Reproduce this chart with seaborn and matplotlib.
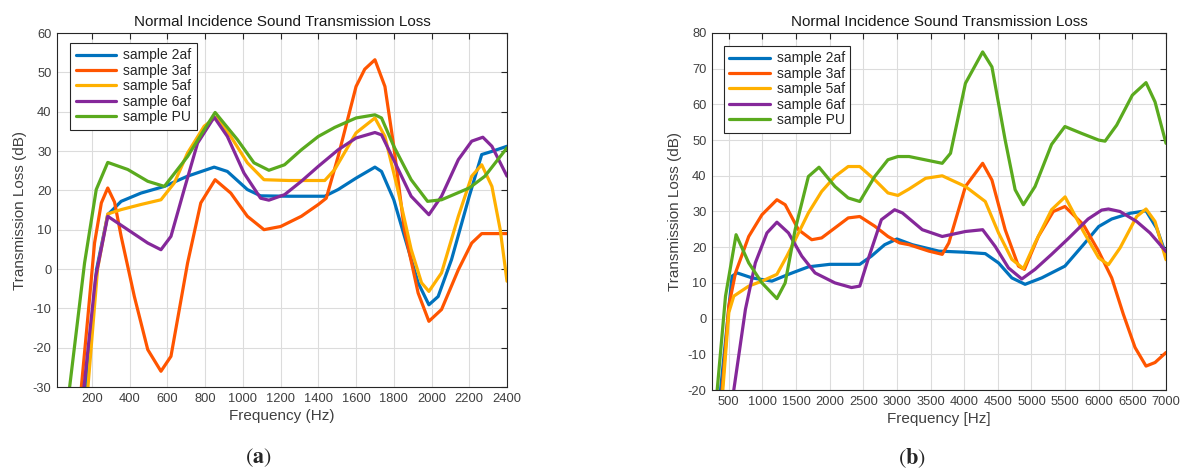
import matplotlib
matplotlib.use("Agg")
import matplotlib.pyplot as plt
import seaborn as sns

# ---- (a) low frequency range ----
fa_2af = [170, 225, 284, 355, 460, 584, 707, 848, 918, 1024, 1094, 1244, 1434, 1505, 1600, 1700, 1735,
          1800, 1856, 1929, 1986, 2035, 2106, 2200, 2266, 2320, 2400]
tla_2af = [-30, 0, 13.8, 17.2, 19.3, 21.0, 23.6, 25.9, 24.8, 20.2, 18.6, 18.5, 18.5, 20.2, 23.1, 25.9, 24.8,
           17.6, 8.4, -3.5, -9.1, -7.0, 2.4, 18.5, 29.1, 29.9, 31.2]

fa_3af = [144, 179, 214, 250, 284, 320, 355, 425, 496, 566, 619, 707, 777, 853, 936, 1024, 1112, 1200,
          1310, 1400, 1442, 1505, 1600, 1646, 1700, 1753, 1800, 1856, 1929, 1986, 2053, 2142, 2213, 2266, 2400]
tla_3af = [-30, -12, 6.6, 16.8, 20.6, 17.0, 8.3, -7.0, -20.5, -26.0, -22.2, 1.5, 16.8, 22.7, 19.3, 13.4, 10.0, 10.8,
           13.4, 16.4, 18.0, 28.6, 46.4, 50.8, 53.2, 46.4, 31.2, 10.0, -6.1, -13.3, -10.3, -0.2, 6.6, 9.0, 9.0]

fa_5af = [179, 230, 284, 355, 460, 566, 637, 707, 795, 857, 936, 1024, 1112, 1244, 1434, 1487, 1600, 1700,
          1753, 1821, 1892, 1947, 1986, 2053, 2142, 2213, 2266, 2320, 2364, 2400]
tla_5af = [-30, 0, 14.0, 15.1, 16.4, 17.6, 21.9, 29.5, 36.3, 38.6, 33.7, 27.0, 22.7, 22.5, 22.5, 25.3, 34.6, 38.4,
           33.7, 20.2, 5.0, -3.5, -5.7, -1.0, 13.4, 23.6, 26.5, 21.0, 10.0, -3.1]

fa_6af = [158, 220, 284, 390, 496, 566, 619, 689, 760, 848, 918, 1006, 1094, 1138, 1221, 1310, 1400, 1505,
          1600, 1700, 1735, 1803, 1892, 1986, 2053, 2142, 2213, 2272, 2320, 2400]
tla_6af = [-30, -2, 13.4, 10.0, 6.6, 4.9, 8.3, 20.2, 32.0, 38.6, 33.7, 24.4, 18.0, 17.5, 18.9, 22.3, 26.1, 30.3,
           33.3, 34.7, 34.1, 27.4, 18.5, 13.8, 18.5, 27.8, 32.5, 33.5, 31.2, 23.6]

fa_pu = [82, 161, 223, 284, 390, 496, 584, 707, 795, 853, 971, 1059, 1138, 1221, 1310, 1400, 1487, 1600,
         1700, 1735, 1800, 1892, 1979, 2053, 2200, 2283, 2400]
tla_pu = [-30, 1.5, 20.2, 27.1, 25.3, 22.3, 21.0, 28.6, 35.4, 39.8, 32.9, 27.0, 25.1, 26.5, 30.3, 33.7, 36.0, 38.4,
          39.2, 38.4, 31.2, 22.7, 17.2, 17.6, 20.6, 23.6, 30.8]

# ---- (b) wide frequency range ----
fb_2af = [377, 500, 549, 623, 845, 1141, 1387, 1683, 2000, 2447, 2620, 2817, 3000, 3229, 3623, 4000, 4313,
          4510, 4708, 4905, 5152, 5497, 5772, 6000, 6193, 6465, 6703, 6862, 7000]
tlb_2af = [-20, 2.9, 11.9, 12.8, 11.4, 10.5, 12.4, 14.5, 15.2, 15.2, 17.5, 20.7, 22.3, 20.7, 18.9, 18.6, 18.2,
           15.6, 11.4, 9.6, 11.4, 14.7, 20.7, 25.8, 27.9, 29.5, 30.2, 25.3, 17.9]

fb_3af = [401, 500, 599, 796, 993, 1215, 1338, 1535, 1733, 1880, 2078, 2275, 2447, 2669, 2866, 3039, 3180,
          3475, 3673, 3771, 4018, 4274, 4412, 4609, 4806, 4895, 5102, 5324, 5497, 5772, 6000, 6193, 6366,
          6540, 6703, 6837, 7000]
tlb_3af = [-20, 3.5, 12.8, 23.0, 29.1, 33.3, 31.9, 24.9, 22.1, 22.6, 25.4, 28.2, 28.6, 25.9, 23.0, 21.2, 20.7,
           18.9, 18.0, 21.2, 37.0, 43.5, 38.8, 24.9, 14.7, 13.8, 23.0, 30.0, 31.4, 26.3, 18.8, 11.4, 1.2,
           -8.1, -13.3, -12.3, -9.5]

fb_5af = [411, 500, 574, 796, 993, 1215, 1363, 1500, 1683, 1880, 2078, 2275, 2447, 2669, 2866, 3014, 3180,
          3426, 3673, 4018, 4313, 4510, 4708, 4880, 5053, 5299, 5500, 5772, 6000, 6144, 6317, 6564, 6703,
          6837, 7000]
tlb_5af = [-20, 1.7, 6.3, 9.1, 10.5, 12.4, 17.5, 22.6, 29.6, 35.6, 39.8, 42.6, 42.6, 38.9, 35.2, 34.5, 36.3,
           39.3, 40.0, 37.0, 32.8, 24.0, 16.6, 14.0, 21.2, 30.5, 34.1, 24.4, 17.0, 15.1, 19.8, 28.6, 30.7,
           27.2, 16.5]

fb_6af = [574, 747, 894, 1067, 1215, 1387, 1585, 1782, 2078, 2324, 2447, 2571, 2768, 2965, 3081, 3377, 3673,
          4018, 4274, 4461, 4658, 4856, 5053, 5299, 5546, 5842, 6044, 6144, 6317, 6564, 6762, 7000]
tlb_6af = [-20, 2.6, 15.6, 24.0, 27.0, 24.0, 17.5, 12.8, 10.0, 8.7, 9.1, 16.6, 27.7, 30.5, 29.6, 24.9, 23.0,
           24.4, 24.9, 20.2, 14.2, 11.1, 13.8, 18.0, 22.4, 27.9, 30.4, 30.7, 30.0, 27.2, 24.0, 18.8]

fb_pu = [327, 451, 608, 796, 993, 1215, 1338, 1486, 1683, 1841, 2078, 2275, 2447, 2669, 2866, 3014, 3180,
         3673, 3796, 4018, 4274, 4412, 4609, 4757, 4880, 5053, 5299, 5497, 5743, 6000, 6094, 6267, 6500,
         6703, 6837, 7000]
tlb_pu = [-20, 6.3, 23.5, 15.6, 10.0, 5.6, 10.0, 24.9, 39.8, 42.4, 37.0, 33.8, 32.8, 39.8, 44.5, 45.4, 45.4,
          43.5, 46.3, 65.9, 74.7, 70.5, 50.0, 36.1, 31.9, 37.0, 48.8, 53.8, 51.9, 50.0, 49.7, 54.2, 62.6,
          66.1, 60.7, 49.1]

labels = ["sample 2af", "sample 3af", "sample 5af", "sample 6af", "sample PU"]
colors = ["#0072BD", "#FF5500", "#FFB000", "#85289A", "#5AAA1E"]

series_a = [(fa_2af, tla_2af), (fa_3af, tla_3af), (fa_5af, tla_5af), (fa_6af, tla_6af), (fa_pu, tla_pu)]
series_b = [(fb_2af, tlb_2af), (fb_3af, tlb_3af), (fb_5af, tlb_5af), (fb_6af, tlb_6af), (fb_pu, tlb_pu)]

sns.set_theme(style="white")
plt.rcParams["font.family"] = ["Liberation Sans", "DejaVu Sans"]
plt.rcParams["axes.unicode_minus"] = False

fig = plt.figure(figsize=(11.84, 4.73), dpi=100)
ax_a = fig.add_axes([57 / 1184, 1 - 387 / 473, 450 / 1184, 354 / 473])
ax_b = fig.add_axes([712 / 1184, 1 - 390 / 473, 454 / 1184, 357 / 473])


def draw_panel(ax, series, xlim, ylim, xticks, yticks, xlabel, legend_pos):
    for (f, tl), lab, col in zip(series, labels, colors):
        sns.lineplot(x=f, y=tl, ax=ax, color=col, label=lab, linewidth=2.3, sort=False, estimator=None)
    ax.set_xlim(*xlim)
    ax.set_ylim(*ylim)
    ax.set_xticks(xticks)
    ax.set_yticks(yticks)
    ax.grid(True, color="#dcdcdc", linewidth=0.8)
    ax.tick_params(direction="in", length=4, width=0.8, top=True, right=True,
                   labelsize=9.3, labelcolor="#404040", color="#262626", pad=4)
    for sp in ax.spines.values():
        sp.set_color("#262626")
        sp.set_linewidth(0.8)
    ax.set_xlabel(xlabel, fontsize=11, color="#404040", labelpad=3)
    ax.set_ylabel("Transmission Loss (dB)", fontsize=11, color="#404040", labelpad=4)
    ax.set_title("Normal Incidence Sound Transmission Loss", fontsize=11, color="#1a1a1a", pad=5)
    leg = ax.legend(loc="upper left", bbox_to_anchor=legend_pos, borderaxespad=0, fontsize=10,
                    handlelength=2.9, labelspacing=0.1, handletextpad=0.5, borderpad=0.4,
                    fancybox=False, framealpha=1, edgecolor="#262626")
    leg.get_frame().set_linewidth(0.8)
    for t in leg.get_texts():
        t.set_color("#262626")


draw_panel(ax_a, series_a, (15, 2400), (-30, 60), range(200, 2401, 200), range(-30, 61, 10),
           "Frequency (Hz)", (0.029, 0.972))
draw_panel(ax_b, series_b, (250, 7000), (-20, 80), range(500, 7001, 500), range(-20, 81, 10),
           "Frequency [Hz]", (0.026, 0.964))

fig.text(258 / 1184, 1 - 458 / 473, r"$(\mathbf{a})$", ha="center", va="center", fontsize=16,
         math_fontfamily="stix")
fig.text(912 / 1184, 1 - 458 / 473, r"$(\mathbf{b})$", ha="center", va="center", fontsize=16,
         math_fontfamily="stix")

fig.savefig("out.png", dpi=100)
